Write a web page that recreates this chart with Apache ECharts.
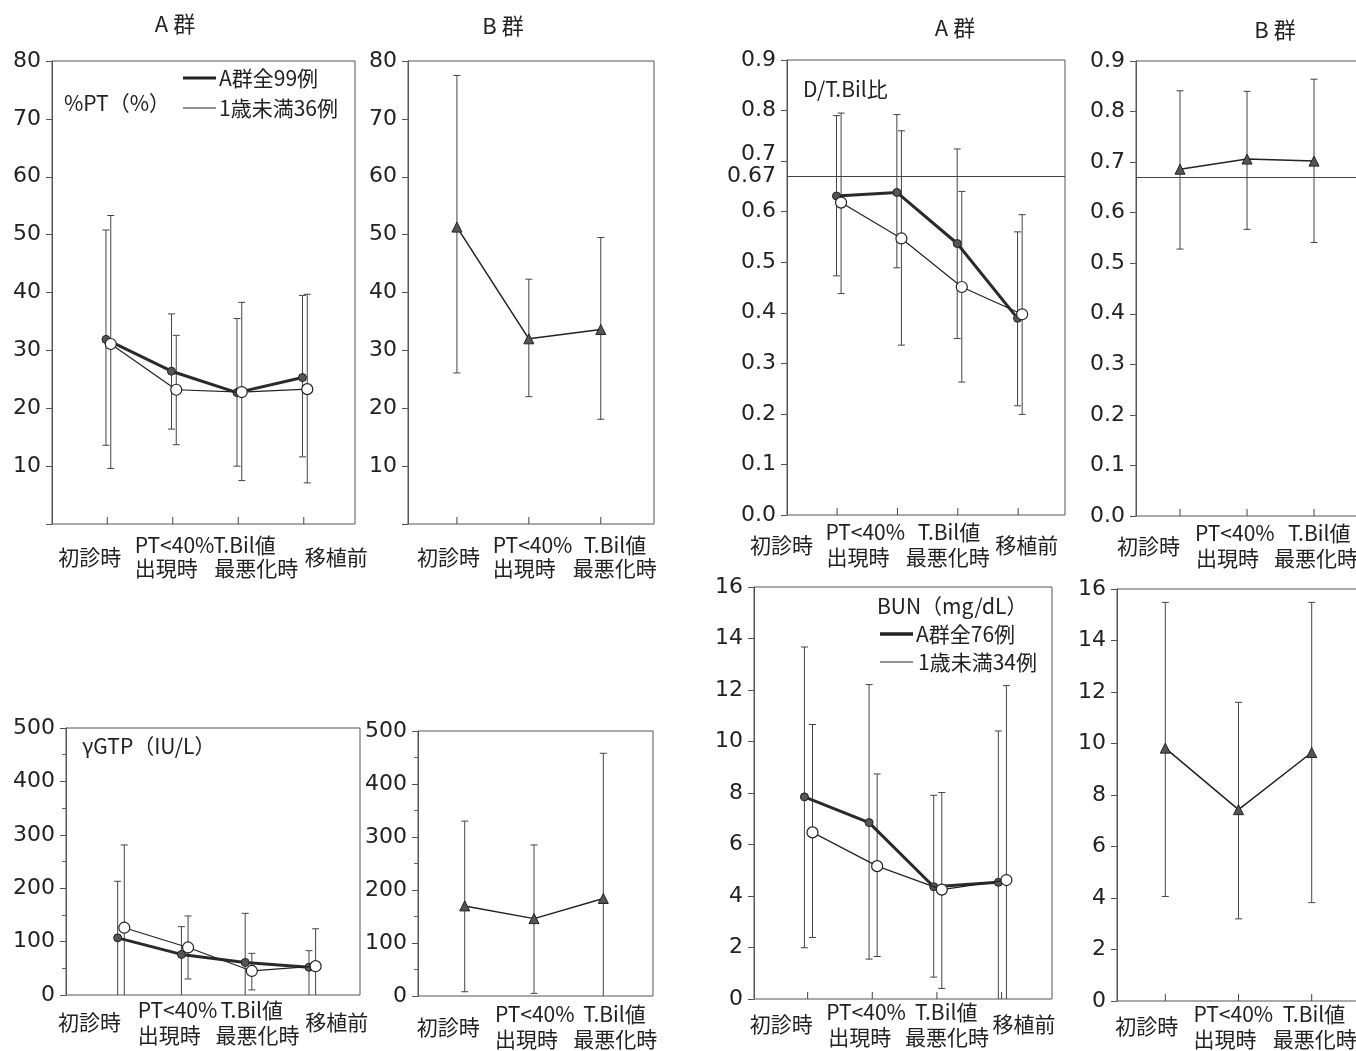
<!DOCTYPE html>
<html lang="ja">
<head>
<meta charset="UTF-8">
<title>Chart</title>
<style>
  html, body { margin: 0; padding: 0; background: #fff; }
  #container { width: 1356px; height: 1051px; }
</style>
</head>
<body>
<div id="container"></div>
<script src="https://cdn.jsdelivr.net/npm/echarts@6/dist/echarts.min.js"></script>
<script>
// categories
var cats = ['初診時', 'PT<40%\n出現時', 'T.Bil値\n最悪化時', '移植前'];
var catsB = cats.slice(0, 3);

// %PT
var ptTicks = [0, 10, 20, 30, 40, 50, 60, 70, 80];
var ptAllMean = [31.9, 26.4, 22.7, 25.3];
var ptAllHi = [50.8, 36.3, 35.5, 39.5];
var ptAllLo = [13.6, 16.4, 10.0, 11.6];
var ptInfMean = [31.1, 23.2, 22.8, 23.3];
var ptInfHi = [53.3, 32.6, 38.3, 39.7];
var ptInfLo = [9.6, 13.7, 7.5, 7.1];
var ptBMean = [51.3, 32.0, 33.6];
var ptBHi = [77.5, 42.3, 49.5];
var ptBLo = [26.1, 22.0, 18.1];

// D/T.Bil比
var dtTicks = [0, 0.1, 0.2, 0.3, 0.4, 0.5, 0.6, 0.7, 0.8, 0.9];
var dtRef = 0.67;
var dtAllMean = [0.631, 0.638, 0.537, 0.389];
var dtAllHi = [0.790, 0.792, 0.724, 0.560];
var dtAllLo = [0.473, 0.489, 0.349, 0.216];
var dtInfMean = [0.618, 0.547, 0.451, 0.397];
var dtInfHi = [0.795, 0.760, 0.640, 0.594];
var dtInfLo = [0.438, 0.336, 0.263, 0.199];
var dtBMean = [0.686, 0.706, 0.702];
var dtBHi = [0.841, 0.840, 0.864];
var dtBLo = [0.528, 0.567, 0.541];

// γGTP (lower bound 0 = bar runs to the axis)
var gTicks = [0, 100, 200, 300, 400, 500];
var gAllMean = [107, 76, 61, 52];
var gAllHi = [213, 128, 153, 83];
var gAllLo = [0, 0, 0, 0];
var gInfMean = [126, 89, 45, 54];
var gInfHi = [281, 148, 78, 124];
var gInfLo = [0, 30, 9.5, 0];
var gBMean = [170, 146, 184];
var gBHi = [330, 285, 458];
var gBLo = [8, 5, 0];

// BUN
var bTicks = [0, 2, 4, 6, 8, 10, 12, 14, 16];
var bAllMean = [7.85, 6.85, 4.36, 4.53];
var bAllHi = [13.67, 12.21, 7.91, 10.41];
var bAllLo = [1.99, 1.55, 0.85, 0];
var bInfMean = [6.47, 5.16, 4.25, 4.62];
var bInfHi = [10.66, 8.74, 8.02, 12.17];
var bInfLo = [2.39, 1.65, 0.41, 0];
var bBMean = [9.82, 7.43, 9.65];
var bBHi = [15.48, 11.6, 15.48];
var bBLo = [4.06, 3.19, 3.82];

var numFont = 'DejaVu Sans';
var jpFont = '"Noto Sans CJK JP"';
var labFont = '21px ' + jpFont;
var ink = '#222';

// layout of the 8 panels
var panels = [
  { box: [52, 61, 303, 463], xr: [-0.844, 3.782], cats: cats, y: ptTicks, noZero: true,
    l1: [-49, -38, -25, 1], l2: [0, -38, -24, 0], ly: [33, 21, 44], xt: true },
  { box: [408, 61, 246, 463], xr: [-0.68, 2.74], cats: catsB, y: ptTicks, noZero: true,
    l1: [-40, -36, -17], l2: [0, -36, -28], ly: [33, 21, 44], xt: true },
  { box: [787, 60, 278, 455], xr: [-0.83, 3.776], cats: cats, y: dtTicks, fix: 1, raise7: true,
    l1: [-87, -72, -40, -23], l2: [0, -71, -52, 0], ly: [30, 17, 42], xt: true },
  { box: [1136, 61, 226, 455], xr: [-0.657, 2.716], cats: catsB, y: dtTicks, fix: 1,
    l1: [-63, -52, -26], l2: [0, -51, -40], ly: [30, 17, 42], xt: true },
  { box: [66, 728, 294, 267], xr: [-0.862, 3.748], cats: cats, y: gTicks, minor: true,
    l1: [-63, -47, -28, -7], l2: [0, -47, -33, 0], ly: [27, 15, 40], xt: false },
  { box: [418, 731, 235, 265], xr: [-0.674, 2.717], cats: catsB, y: gTicks, minor: true,
    l1: [-48, -39, -20], l2: [0, -39, -30], ly: [31, 18, 43], xt: false },
  { box: [754, 587, 298, 412], xr: [-0.83, 3.78], cats: cats, y: bTicks,
    l1: [-58, -46, -22, -9], l2: [0, -44, -32, 0], ly: [25, 13, 38], xt: true },
  { box: [1117, 589, 245, 412], xr: [-0.66, 2.687], cats: catsB, y: bTicks,
    l1: [-50, -45, -29], l2: [0, -45, -39], ly: [25, 13, 38], xt: true }
];

var grids = [], xAxes = [], yAxes = [], series = [];

panels.forEach(function (p, gi) {
  grids.push({
    left: p.box[0], top: p.box[1], width: p.box[2], height: p.box[3],
    show: true, borderColor: '#555', borderWidth: 1, containLabel: false,
    outerBoundsMode: 'none'
  });
  xAxes.push({
    type: 'value', gridIndex: gi, min: p.xr[0], max: p.xr[1],
    axisLine: { show: false, onZero: false }, axisTick: { show: false },
    axisLabel: { show: false }, splitLine: { show: false }
  });
  var t = p.y;
  yAxes.push({
    type: 'value', gridIndex: gi, min: t[0], max: t[t.length - 1], interval: t[1] - t[0],
    axisLine: { show: true, onZero: false, lineStyle: { color: '#555', width: 1 } },
    axisTick: { show: true, length: 6, lineStyle: { color: '#555' } },
    minorTick: { show: !!p.minor, splitNumber: 2, length: 4, lineStyle: { color: '#666' } },
    splitLine: { show: false },
    axisLabel: {
      margin: 11, color: ink, fontFamily: numFont, fontSize: 22,
      formatter: function (v) {
        if (p.noZero && v === 0) return '';
        var s = p.fix ? v.toFixed(p.fix) : String(v);
        if (p.raise7 && Math.abs(v - 0.7) < 1e-6) return '{up|' + s + '}';
        return s;
      },
      rich: { up: { fontFamily: numFont, fontSize: 22, color: ink, padding: [0, 0, 14, 0] } }
    }
  });
  // category ticks and labels
  series.push({
    type: 'custom', xAxisIndex: gi, yAxisIndex: gi, silent: true, z: 1,
    data: p.cats.map(function (c, i) { return [i]; }),
    renderItem: function (params, api) {
      var i = params.dataIndex;
      var pt = api.coord([api.value(0), t[0]]);
      var lines = p.cats[i].split('\n');
      var ch = [];
      if (p.xt) {
        ch.push({ type: 'line', shape: { x1: pt[0], y1: pt[1], x2: pt[0], y2: pt[1] - 7 },
          style: { stroke: '#444', lineWidth: 1 } });
      }
      if (lines.length === 1) {
        ch.push(txt(pt[0] + p.l1[i], pt[1] + p.ly[0], lines[0]));
      } else {
        ch.push(txt(pt[0] + p.l1[i], pt[1] + p.ly[1], lines[0]));
        ch.push(txt(pt[0] + p.l2[i], pt[1] + p.ly[2], lines[1]));
      }
      return { type: 'group', children: ch };
    }
  });
});

function txt(x, y, s) {
  return { type: 'text', style: { x: x, y: y, text: s, font: labFont, fill: ink,
    textAlign: 'left', align: 'left', textVerticalAlign: 'middle', verticalAlign: 'middle' } };
}

function errBars(gi, off, lo, hi, yMin) {
  return {
    type: 'custom', xAxisIndex: gi, yAxisIndex: gi, silent: true, z: 2,
    data: lo.map(function (v, i) { return [i + off, v, hi[i]]; }),
    renderItem: function (params, api) {
      var x = api.value(0), l = api.value(1), h = api.value(2);
      var a = api.coord([x, h]);
      var b = api.coord([x, Math.max(l, yMin)]);
      var st = { stroke: '#444', lineWidth: 1 };
      var ch = [
        { type: 'line', shape: { x1: a[0], y1: a[1], x2: b[0], y2: b[1] }, style: st },
        { type: 'line', shape: { x1: a[0] - 3.5, y1: a[1], x2: a[0] + 3.5, y2: a[1] }, style: st }
      ];
      if (l > yMin) {
        ch.push({ type: 'line', shape: { x1: b[0] - 3.5, y1: b[1], x2: b[0] + 3.5, y2: b[1] }, style: st });
      }
      return { type: 'group', children: ch };
    }
  };
}

function meanLine(gi, off, mean, kind) {
  var s = {
    type: 'line', xAxisIndex: gi, yAxisIndex: gi, silent: true,
    data: mean.map(function (v, i) { return [i + off, v]; }),
    emphasis: { disabled: true }
  };
  if (kind === 'all') {
    s.symbol = 'circle'; s.symbolSize = 8; s.z = 3;
    s.lineStyle = { color: '#2a2a2a', width: 3 };
    s.itemStyle = { color: '#555', borderColor: '#222', borderWidth: 1 };
  } else if (kind === 'inf') {
    s.symbol = 'circle'; s.symbolSize = 11; s.z = 4;
    s.lineStyle = { color: '#222', width: 1.2 };
    s.itemStyle = { color: '#fff', borderColor: '#222', borderWidth: 1.2 };
  } else {
    s.symbol = 'triangle'; s.symbolSize = 10; s.z = 3;
    s.lineStyle = { color: '#222', width: 1.5 };
    s.itemStyle = { color: '#555', borderColor: '#222', borderWidth: 1 };
  }
  return s;
}

function refLine(withLabel) {
  return {
    silent: true, symbol: ['none', 'none'],
    lineStyle: { color: '#444', width: 1, type: 'solid' },
    label: { show: withLabel, position: 'start', formatter: String(dtRef), distance: 11,
      color: ink, fontFamily: numFont, fontSize: 22 },
    data: [{ yAxis: dtRef }]
  };
}

// %PT
series.push(errBars(0, -0.02, ptAllLo, ptAllHi, 0));
series.push(errBars(0, 0.053, ptInfLo, ptInfHi, 0));
series.push(meanLine(0, -0.02, ptAllMean, 'all'));
series.push(meanLine(0, 0.053, ptInfMean, 'inf'));
series.push(errBars(1, 0, ptBLo, ptBHi, 0));
series.push(meanLine(1, 0, ptBMean, 'b'));
// D/T.Bil
series.push(errBars(2, -0.01, dtAllLo, dtAllHi, 0));
series.push(errBars(2, 0.066, dtInfLo, dtInfHi, 0));
var dtA = meanLine(2, -0.01, dtAllMean, 'all');
dtA.markLine = refLine(true);
series.push(dtA);
series.push(meanLine(2, 0.066, dtInfMean, 'inf'));
series.push(errBars(3, 0, dtBLo, dtBHi, 0));
var dtB = meanLine(3, 0, dtBMean, 'b');
dtB.markLine = refLine(false);
series.push(dtB);
// γGTP
series.push(errBars(4, -0.052, gAllLo, gAllHi, 0));
series.push(errBars(4, 0.052, gInfLo, gInfHi, 0));
series.push(meanLine(4, -0.052, gAllMean, 'all'));
series.push(meanLine(4, 0.052, gInfMean, 'inf'));
series.push(errBars(5, 0, gBLo, gBHi, 0));
series.push(meanLine(5, 0, gBMean, 'b'));
// BUN
series.push(errBars(6, -0.05, bAllLo, bAllHi, 0));
series.push(errBars(6, 0.075, bInfLo, bInfHi, 0));
series.push(meanLine(6, -0.05, bAllMean, 'all'));
series.push(meanLine(6, 0.075, bInfMean, 'inf'));
series.push(errBars(7, 0, bBLo, bBHi, 0));
series.push(meanLine(7, 0, bBMean, 'b'));

function gText(x, y, s, align, size) {
  return { type: 'text', x: x, y: y, silent: true,
    style: { text: s, font: (size || 21) + 'px ' + jpFont, fill: ink,
      textAlign: align, align: align, textVerticalAlign: 'middle', verticalAlign: 'middle' } };
}
function gLine(x1, x2, y, w) {
  return { type: 'line', silent: true, shape: { x1: x1, y1: y, x2: x2, y2: y },
    style: { stroke: '#222', lineWidth: w } };
}

var graphics = [
  gText(175, 24, 'A 群', 'center', 22),
  gText(503, 26, 'B 群', 'center', 22),
  gText(955, 28, 'A 群', 'center', 22),
  gText(1275, 30, 'B 群', 'center', 22),
  gText(64, 103, '%PT（%）', 'left'),
  gLine(183, 216, 78, 3), gText(219, 78, 'A群全99例', 'left'),
  gLine(183, 216, 108, 1), gText(219, 108, '1歳未満36例', 'left'),
  gText(803, 89, 'D/T.Bil比', 'left'),
  gText(82, 746, 'γGTP（IU/L）', 'left'),
  gText(877, 606, 'BUN（mg/dL）', 'left'),
  gLine(880, 913, 634, 3.5), gText(916, 634, 'A群全76例', 'left'),
  gLine(880, 913, 662, 1), gText(918, 662, '1歳未満34例', 'left')
];

var dom = document.getElementById('container');
var myChart = echarts.init(dom, null, { renderer: 'canvas' });
var option = {
  backgroundColor: '#fff',
  animation: false,
  grid: grids,
  xAxis: xAxes,
  yAxis: yAxes,
  series: series,
  graphic: graphics
};
myChart.setOption(option);
window.addEventListener('resize', myChart.resize);
</script>
</body>
</html>
